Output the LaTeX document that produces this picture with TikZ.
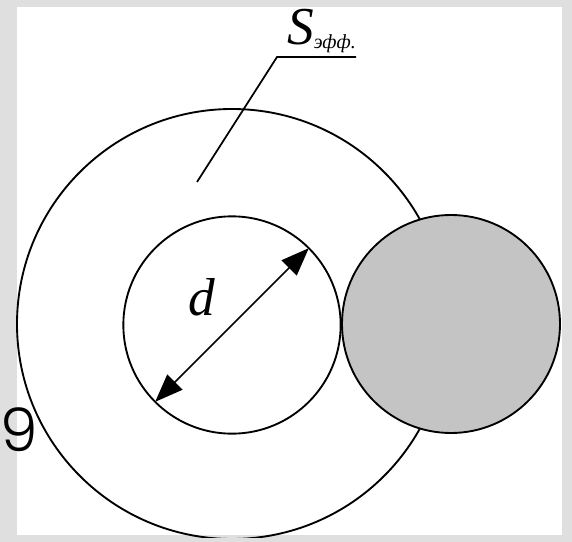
\documentclass[tikz,border=0pt]{standalone}
\usepackage{fontspec}
\setmainfont{Liberation Serif}
\newfontfamily\slidefont{Poppins Light}
\usetikzlibrary{positioning,arrows.meta,calc}
\definecolor{slGrey}{HTML}{DFDFDF}
\definecolor{dotGrey}{HTML}{C4C4C4}
\tikzset{
  ring/.style={draw=black, line width=1.4pt, circle, inner sep=0pt, outer sep=0pt},
  lead/.style={line width=1.3pt, black},
  dim/.style={{Triangle[length=21pt,width=16pt]}-{Triangle[length=21pt,width=16pt]}, line width=1.1pt, black},
  lbl/.style={font=\fontsize{40}{44}\selectfont\itshape, inner sep=0pt},
}
\begin{document}
\begin{tikzpicture}[x=0.75pt,y=-0.75pt]
  \useasboundingbox (0,0) rectangle (572,542);
  % slide background and picture area
  \fill[slGrey] (0,0) rectangle (572,542);
  \fill[white] (17,7) rectangle (562,535);
  % slide number
  \node[anchor=base west, inner sep=0pt, font=\slidefont\fontsize{45}{45}\selectfont] (pgno) at (0,451) {9};
  % rings
  \begin{scope}
    \clip (0,7) rectangle (572,537);
    \node[ring, minimum size=322.5pt] (outer) at (232,324) {};
    \node[ring, minimum size=163pt] (inner) at (232,325) {};
    \node[ring, fill=dotGrey, minimum size=163.5pt] (ball) at (451,324) {};
  \end{scope}
  % diameter
  \draw[dim] (inner.225) -- (inner.45);
  \node[lbl, anchor=base] (dlab) at (202,315) {d};
  % effective area label
  \node[lbl, anchor=base west] (seff) at (287,45) {S\raisebox{-2.5pt}{\fontsize{15}{16}\selectfont эфф.}};
  \coordinate (tail) at (197,182);
  \coordinate (knee) at (277,57);
  \draw[lead] (tail) -- (knee) -- (knee -| seff.east);
\end{tikzpicture}
\end{document}
